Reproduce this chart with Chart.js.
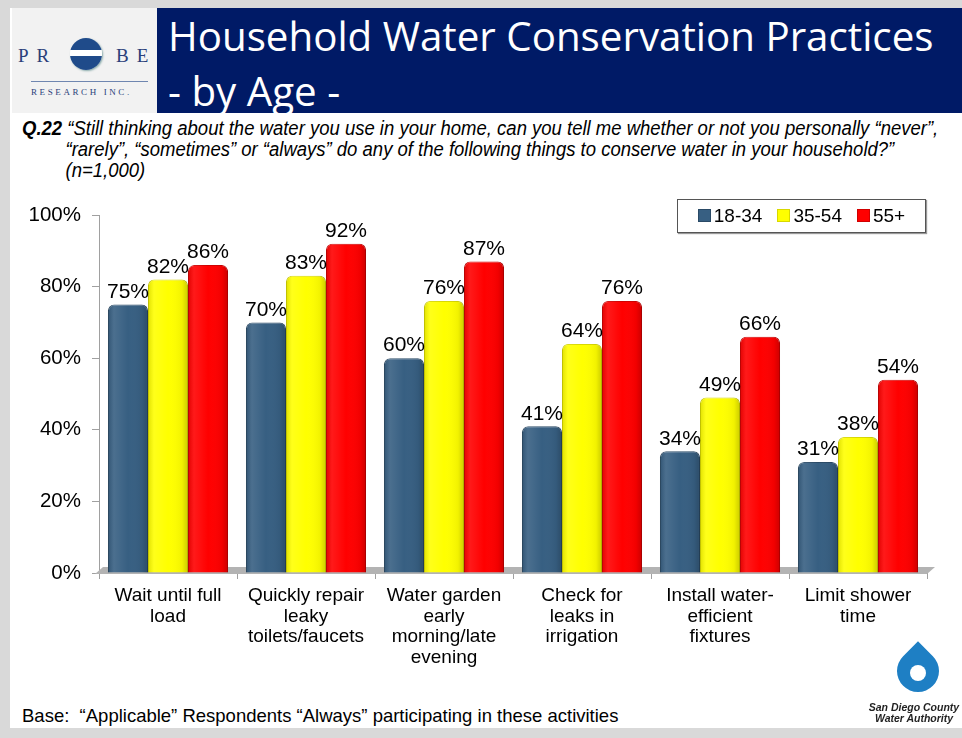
<!DOCTYPE html>
<html>
<head>
<meta charset="utf-8">
<script src="https://cdn.jsdelivr.net/npm/chart.js@4.4.1/dist/chart.umd.min.js"></script>
<style>
  html, body { margin: 0; padding: 0; }
  body { width: 962px; height: 738px; background: #d9d9d9; position: relative; overflow: hidden; font-family: "Liberation Sans", Arial, sans-serif; }
  #panel { position: absolute; left: 10px; top: 8px; width: 952px; height: 720px; background: #fff; }
  #logoBox { position: absolute; left: 12px; top: 8px; width: 145px; height: 105px; background: #f2f2f2; }
  #titleBar { position: absolute; left: 157px; top: 8px; width: 805px; height: 105px; background: #001a66; }
  #title { position: absolute; left: 11px; top: 0px; color: #fff; font-family: "Open Sans", sans-serif; font-size: 40.3px; line-height: 55px; white-space: nowrap; }
  .probe { position: absolute; top: 37px; font-family: "Liberation Serif", serif; font-size: 19px; color: #2a3f7a; letter-spacing: 8px; }
  #ring { position: absolute; left: 58px; top: 30px; width: 32px; height: 32px; border-radius: 50%; background: linear-gradient(#1f4b8a 0 36%, #fff 36% 56%, #1f4b8a 56%); box-shadow: 1px 1px 2px #8aa; }
  #rline { position: absolute; left: 19px; top: 73px; width: 117px; height: 1px; background: #6f86b0; }
  #rsub { position: absolute; left: 19px; top: 79px; font-family: "Liberation Serif", serif; font-size: 9px; color: #2a3f7a; letter-spacing: 2.6px; white-space: nowrap; }
  #question { position: absolute; left: 22px; top: 118px; width: 1000px; font-family: "Liberation Sans", sans-serif; font-style: italic; font-size: 20px; line-height: 21px; color: #000; transform: scaleX(0.925); transform-origin: left top; }
  #question div { white-space: nowrap; }
  #question .ind { padding-left: 47px; }
  #legend { position: absolute; left: 677px; top: 199px; width: 247px; height: 32px; border: 1px solid #555; background: #fff; box-shadow: 1px 1px 1px #999; font-size: 19px; display: flex; align-items: center; justify-content: center; gap: 15px; }
  #legend span.sw { display: inline-block; width: 11px; height: 11px; margin-right: 3px; vertical-align: 0px; }
  #chartWrap { position: absolute; left: 0; top: 190px; width: 962px; height: 500px; }
  #base { position: absolute; left: 22px; top: 705px; font-size: 18.5px; color: #000; white-space: nowrap; }
  #drop { position: absolute; left: 897px; top: 650px; width: 42px; height: 42px; background: #1e7fc4; border-radius: 0 50% 50% 50%; transform: rotate(45deg); }
  #drop2 { position: absolute; left: 910px; top: 665px; width: 16px; height: 16px; background: #fff; border-radius: 50%; }
  #sdcwa { position: absolute; left: 866px; top: 702px; width: 96px; font-size: 10.5px; font-weight: bold; font-style: italic; line-height: 11px; text-align: center; color: #222; }
</style>
</head>
<body>
<div id="panel"></div>
<div id="logoBox">
  <div class="probe" style="left:6px">PR</div>
  <div id="ring"></div>
  <div class="probe" style="left:104px">BE</div>
  <div id="rline"></div>
  <div id="rsub">RESEARCH INC.</div>
</div>
<div id="titleBar"><div id="title">Household Water Conservation Practices<br>- by Age -</div></div>
<div id="question">
  <div><b>Q.22</b> “Still thinking about the water you use in your home, can you tell me whether or not you personally “never”,</div>
  <div class="ind">“rarely”, “sometimes” or “always” do any of the following things to conserve water in your household?”</div>
  <div class="ind">(n=1,000)</div>
</div>
<div id="chartWrap"><canvas id="grafico" width="962" height="500"></canvas></div>
<div id="legend"></div>
<div id="base">Base:&nbsp; “Applicable” Respondents “Always” participating in these activities</div>
<div id="drop"></div><div id="drop2"></div>
<div id="sdcwa">San Diego County<br>Water Authority</div>

<script>
// Datos
const categorias = [
    ["Wait until full", "load"],
    ["Quickly repair", "leaky", "toilets/faucets"],
    ["Water garden", "early", "morning/late", "evening"],
    ["Check for", "leaks in", "irrigation"],
    ["Install water-", "efficient", "fixtures"],
    ["Limit shower", "time"]
];
const grupos = ["18-34", "35-54", "55+"];
const valores1834 = [75, 70, 60, 41, 34, 31];
const valores3554 = [82, 83, 76, 64, 49, 38];
const valores55 = [86, 92, 87, 76, 66, 54];
const ticksY = [0, 20, 40, 60, 80, 100];

const colores = ["#375f82", "#ffff00", "#ff0000"];
const bordes = ["#2a4a66", "#d8d800", "#d00000"];

// Leyenda en HTML
const leyenda = document.getElementById("legend");
grupos.forEach((g, i) => {
    leyenda.innerHTML += `<div><span class="sw" style="background:${colores[i]};border:1px solid ${bordes[i]}"></span>${g}</div>`;
});

// Etiquetas de valor sobre cada barra
const etiquetasPlugin = {
    id: "etiquetas",
    afterDatasetsDraw(chart) {
        const ctx = chart.ctx;
        ctx.save();
        ctx.font = "21px 'Liberation Sans', Arial, sans-serif";
        ctx.fillStyle = "#000";
        ctx.textAlign = "center";
        ctx.textBaseline = "bottom";
        chart.data.datasets.forEach((ds, i) => {
            chart.getDatasetMeta(i).data.forEach((bar, j) => {
                ctx.fillText(ds.data[j] + "%", bar.x, bar.y - 2);
            });
        });
        ctx.restore();
    }
};

// Piso gris y brillo de las barras
const pisoPlugin = {
    id: "piso",
    beforeDatasetsDraw(chart) {
        const { ctx, chartArea: a } = chart;
        ctx.save();
        ctx.fillStyle = "#b3b3b3";
        ctx.beginPath();
        ctx.moveTo(a.left - 4, a.bottom + 1);
        ctx.lineTo(a.left + 4, a.bottom - 6);
        ctx.lineTo(a.right + 8, a.bottom - 6);
        ctx.lineTo(a.right, a.bottom + 1);
        ctx.closePath();
        ctx.fill();
        ctx.restore();
    },
    afterDatasetsDraw(chart) {
        const ctx = chart.ctx;
        ctx.save();
        chart.data.datasets.forEach((ds, i) => {
            chart.getDatasetMeta(i).data.forEach(bar => {
                const w = bar.width, x0 = bar.x - w / 2;
                const g = ctx.createLinearGradient(x0, 0, x0 + w, 0);
                g.addColorStop(0, "rgba(0,0,0,0.12)");
                g.addColorStop(0.15, "rgba(255,255,255,0.10)");
                g.addColorStop(0.5, "rgba(255,255,255,0)");
                g.addColorStop(0.85, "rgba(0,0,0,0.05)");
                g.addColorStop(1, "rgba(0,0,0,0.2)");
                ctx.fillStyle = g;
                ctx.beginPath();
                ctx.roundRect(x0, bar.y, w, bar.base - bar.y, [6, 6, 0, 0]);
                ctx.fill();
            });
        });
        ctx.restore();
    }
};

const ctx = document.getElementById("grafico").getContext("2d");
new Chart(ctx, {
    type: "bar",
    data: {
        labels: categorias,
        datasets: [valores1834, valores3554, valores55].map((v, i) => ({
            label: grupos[i],
            data: v,
            backgroundColor: colores[i],
            borderColor: bordes[i],
            borderWidth: 1,
            borderRadius: { topLeft: 6, topRight: 6 },
            borderSkipped: "bottom",
            categoryPercentage: 0.87,
            barPercentage: 1.0
        }))
    },
    options: {
        responsive: false,
        animation: false,
        layout: { padding: { left: 0, right: 35, top: 25, bottom: 0 } },
        plugins: { legend: { display: false }, tooltip: { enabled: false } },
        scales: {
            y: {
                min: 0, max: 100,
                afterBuildTicks: s => { s.ticks = ticksY.map(v => ({ value: v })); },
                afterFit: s => { s.width = 99; },
                ticks: {
                    callback: v => v + "%",
                    color: "#000",
                    font: { size: 20.5, family: "'Liberation Sans', Arial, sans-serif" },
                    padding: 11
                },
                grid: { display: true, drawOnChartArea: false, color: "#a0a0a0", tickLength: 7 },
                border: { color: "#a0a0a0" }
            },
            x: {
                afterFit: s => { s.height = 117; },
                ticks: {
                    color: "#000",
                    font: { size: 19, family: "'Liberation Sans', Arial, sans-serif", lineHeight: 1.1 },
                    maxRotation: 0,
                    autoSkip: false,
                    padding: 6
                },
                grid: { offset: true, drawOnChartArea: false, color: "#a0a0a0", tickLength: 6 },
                border: { color: "#a0a0a0" }
            }
        }
    },
    plugins: [pisoPlugin, etiquetasPlugin]
});
</script>
</body>
</html>
